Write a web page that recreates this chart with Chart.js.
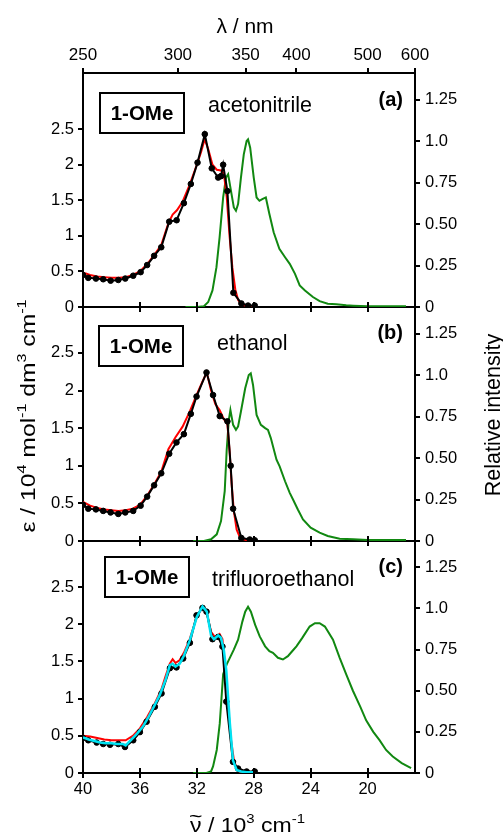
<!DOCTYPE html>
<html>
<head>
<meta charset="utf-8">
<script src="https://cdn.jsdelivr.net/npm/chart.js@4.4.1/dist/chart.umd.min.js"></script>
<style>
  html, body { margin: 0; padding: 0; background: #fff; }
  #wrap { position: relative; width: 503px; height: 834px; }
  #wrap canvas { position: absolute; left: 0; top: 0; }
</style>
</head>
<body>
<div id="wrap">
  <canvas id="panelA" width="503" height="834"></canvas>
  <canvas id="panelB" width="503" height="834"></canvas>
  <canvas id="panelC" width="503" height="834"></canvas>
</div>
<script>
// x: wavenumber / 10^3 cm^-1, absorption y: eps / 10^4, emission y: relative intensity
var aBlackX = [40, 39.63, 39.09, 38.58, 38.06, 37.52, 37.03, 36.47, 35.95, 35.49, 35.0, 34.5, 33.94, 33.42, 32.91, 32.42, 31.95, 31.44, 30.95, 30.5, 30.3, 30.15, 29.85, 29.43, 28.87, 28.4, 27.93];
var aBlackY = [0.45, 0.41, 0.40, 0.39, 0.37, 0.38, 0.40, 0.44, 0.49, 0.59, 0.72, 0.84, 1.20, 1.22, 1.46, 1.73, 2.03, 2.43, 1.95, 1.82, 1.84, 2.0, 1.63, 0.20, 0.05, 0.02, 0.02];
var aRedX = [40, 39.8, 39.5, 39, 38.5, 38, 37.5, 37, 36.5, 36, 35.5, 35, 34.5, 34, 33.7, 33.4, 33, 32.5, 32, 31.7, 31.45, 31.2, 30.9, 30.6, 30.3, 30.1, 29.9, 29.7, 29.5, 29.3, 29.1, 28.9, 28.6, 28.3, 28.0];
var aRedY = [0.48, 0.47, 0.45, 0.43, 0.42, 0.41, 0.41, 0.42, 0.45, 0.50, 0.60, 0.73, 0.87, 1.18, 1.30, 1.36, 1.48, 1.72, 2.00, 2.18, 2.36, 2.22, 2.0, 1.93, 1.92, 1.88, 1.55, 1.0, 0.55, 0.25, 0.10, 0.04, 0.02, 0.01, 0.01];
var aGreenX = [32.8, 32.0, 31.5, 31.2, 30.9, 30.62, 30.4, 30.15, 29.95, 29.8, 29.6, 29.4, 29.25, 29.1, 28.9, 28.7, 28.5, 28.4, 28.25, 28.0, 27.8, 27.6, 27.4, 27.15, 26.9, 26.6, 26.2, 25.8, 25.47, 25.1, 24.77, 24.4, 23.84, 23.37, 22.8, 22.2, 21.5, 21.0, 20.0, 19.0, 18.0, 17.3];
var aGreenY = [0, 0, 0.005, 0.03, 0.10, 0.24, 0.42, 0.66, 0.78, 0.80, 0.70, 0.60, 0.58, 0.62, 0.78, 0.92, 1.0, 1.01, 0.96, 0.78, 0.66, 0.64, 0.65, 0.66, 0.56, 0.45, 0.35, 0.30, 0.26, 0.20, 0.13, 0.10, 0.06, 0.035, 0.02, 0.016, 0.01, 0.008, 0.005, 0.005, 0.005, 0.005];

var bBlackX = [40, 39.63, 39.09, 38.58, 38.06, 37.52, 37.03, 36.47, 35.95, 35.49, 35.0, 34.5, 33.94, 33.43, 32.91, 32.42, 32.02, 31.32, 30.86, 30.39, 29.85, 29.62, 29.45, 28.87, 28.28, 27.93];
var bBlackY = [0.48, 0.43, 0.42, 0.40, 0.38, 0.36, 0.38, 0.40, 0.47, 0.59, 0.74, 0.90, 1.16, 1.31, 1.42, 1.69, 1.92, 2.24, 1.94, 1.66, 1.59, 1.0, 0.43, 0.04, 0.02, 0.01];
var bRedX = [40, 39.5, 39, 38.5, 38, 37.5, 37, 36.5, 36, 35.5, 35, 34.5, 34, 33.5, 33, 32.5, 32, 31.6, 31.3, 31.0, 30.7, 30.4, 30.1, 29.85, 29.7, 29.55, 29.4, 29.2, 29.0, 28.8, 28.5, 28.0];
var bRedY = [0.52, 0.47, 0.44, 0.42, 0.41, 0.40, 0.41, 0.43, 0.48, 0.60, 0.75, 0.92, 1.22, 1.38, 1.52, 1.72, 1.95, 2.12, 2.24, 2.0, 1.82, 1.74, 1.62, 1.55, 1.2, 0.75, 0.40, 0.15, 0.06, 0.03, 0.01, 0.01];
var bGreenX = [32.26, 31.5, 31.0, 30.6, 30.3, 30.04, 29.9, 29.75, 29.64, 29.45, 29.25, 29.1, 28.9, 28.6, 28.35, 28.21, 28.05, 27.8, 27.5, 27.2, 27.0, 26.8, 26.4, 26.18, 25.8, 25.47, 25.24, 24.9, 24.54, 24.0, 23.37, 22.8, 21.96, 21.0, 20.0, 18.2, 17.3];
var bGreenY = [0, 0, 0.01, 0.04, 0.12, 0.30, 0.55, 0.73, 0.79, 0.70, 0.67, 0.69, 0.78, 0.92, 1.0, 1.01, 0.94, 0.76, 0.70, 0.68, 0.67, 0.62, 0.49, 0.45, 0.36, 0.29, 0.25, 0.19, 0.13, 0.08, 0.05, 0.03, 0.014, 0.01, 0.006, 0.006, 0.006];

var cBlackX = [40, 39.63, 39.04, 38.58, 38.1, 37.52, 37.05, 36.47, 36.0, 35.53, 34.95, 34.48, 33.89, 33.43, 32.96, 32.49, 32.02, 31.6, 31.32, 30.9, 30.5, 30.2, 29.93, 29.46, 29.1, 28.5, 27.93];
var cBlackY = [0.47, 0.44, 0.41, 0.39, 0.38, 0.39, 0.35, 0.44, 0.55, 0.69, 0.89, 1.07, 1.41, 1.42, 1.54, 1.75, 2.12, 2.22, 2.17, 1.80, 1.83, 1.70, 0.96, 0.15, 0.06, 0.02, 0.02];
var cRedX = [40, 39.5, 39, 38.5, 38, 37.5, 37, 36.5, 36, 35.5, 35, 34.5, 34.2, 33.9, 33.7, 33.5, 33.2, 32.9, 32.5, 32, 31.6, 31.3, 31.0, 30.7, 30.4, 30.2, 30.0, 29.8, 29.6, 29.4, 29.2, 29.0, 28.7, 28.3];
var cRedY = [0.50, 0.49, 0.47, 0.45, 0.44, 0.44, 0.44, 0.50, 0.60, 0.75, 0.92, 1.12, 1.30, 1.47, 1.53, 1.48, 1.52, 1.62, 1.80, 2.10, 2.23, 2.15, 1.90, 1.82, 1.87, 1.80, 1.40, 0.90, 0.45, 0.18, 0.06, 0.02, 0.01, 0.01];
var cCyanX = [40, 39.6, 39.2, 38.8, 38.4, 38, 37.6, 37.2, 37.0, 36.6, 36.2, 35.8, 35.4, 35.0, 34.6, 34.2, 33.9, 33.7, 33.5, 33.2, 32.9, 32.5, 32.0, 31.6, 31.3, 31.0, 30.8, 30.5, 30.3, 30.1, 29.93, 29.68, 29.46, 29.2, 28.9, 28.5, 28.0];
var cCyanY = [0.48, 0.45, 0.43, 0.41, 0.40, 0.40, 0.39, 0.39, 0.37, 0.45, 0.53, 0.62, 0.75, 0.90, 1.05, 1.25, 1.45, 1.47, 1.43, 1.47, 1.58, 1.78, 2.10, 2.24, 2.17, 1.85, 1.80, 1.85, 1.82, 1.65, 1.38, 0.67, 0.17, 0.04, 0.02, 0.01, 0.01];
var cGreenX = [32.26, 31.32, 31.0, 30.86, 30.6, 30.39, 30.15, 29.9, 29.68, 29.4, 29.1, 28.8, 28.6, 28.4, 28.2, 27.9, 27.58, 27.2, 26.9, 26.65, 26.3, 25.95, 25.6, 25.3, 25.0, 24.6, 24.07, 23.7, 23.37, 23.0, 22.43, 21.96, 21.5, 21.03, 20.5, 20.1, 19.6, 19.16, 18.7, 18.23, 17.6, 16.94];
var cGreenY = [0, 0, 0.01, 0.04, 0.14, 0.30, 0.60, 0.66, 0.70, 0.75, 0.81, 0.92, 0.98, 1.01, 0.98, 0.90, 0.83, 0.77, 0.74, 0.73, 0.70, 0.69, 0.71, 0.74, 0.77, 0.82, 0.89, 0.91, 0.91, 0.89, 0.81, 0.70, 0.60, 0.50, 0.40, 0.32, 0.25, 0.20, 0.14, 0.10, 0.06, 0.03];

var lambdaTicks = [250, 300, 350, 400, 500, 600];
var waveTicks = [40, 36, 32, 28, 24, 20];
var epsTicks = [0, 0.5, 1, 1.5, 2, 2.5];
var relTicks = [0, 0.25, 0.5, 0.75, 1, 1.25];
var relLabels = ['0', '0.25', '0.50', '0.75', '1.0', '1.25'];

var H = 834;
var XMAX = 40, XMIN = 10000 / 600;
var FONT = "'Liberation Sans', Arial, sans-serif";
Chart.defaults.font.family = FONT;
Chart.defaults.color = '#000';

function xy(xs, ys) {
  return xs.map(function (x, i) { return { x: x, y: ys[i] }; });
}

function line(xs, ys, color, width, axis, marker) {
  return {
    data: xy(xs, ys),
    borderColor: color,
    backgroundColor: color,
    borderWidth: width,
    yAxisID: axis,
    pointRadius: marker ? 2.8 : 0,
    pointBorderWidth: 1,
    pointBackgroundColor: color,
    tension: 0,
    fill: false
  };
}

// text with superscripts, drawn about a baseline centre point
function richText(ctx, t) {
  var size = t.size;
  ctx.save();
  ctx.translate(t.x, t.y);
  ctx.rotate(t.rot || 0);
  var w = 0;
  t.segs.forEach(function (s) {
    ctx.font = (s[1] ? size * 0.65 : size) + 'px ' + FONT;
    w += ctx.measureText(s[0]).width;
  });
  if (t.len) ctx.scale(t.len / w, 1);
  ctx.fillStyle = '#000';
  ctx.textBaseline = 'alphabetic';
  ctx.textAlign = 'left';
  var cx = -w / 2;
  t.segs.forEach(function (s) {
    ctx.font = (s[1] ? size * 0.65 : size) + 'px ' + FONT;
    var sw = ctx.measureText(s[0]).width;
    ctx.fillText(s[0], cx, s[1] ? -size * 0.42 : 0);
    if (s[2]) {
      ctx.textAlign = 'center';
      ctx.fillText(s[2], cx + sw / 2, -size * 0.45);
      ctx.textAlign = 'left';
    }
    cx += sw;
  });
  ctx.restore();
}

var notesPlugin = {
  id: 'panelNotes',
  afterDraw: function (chart, args, o) {
    var ctx = chart.ctx, ca = chart.chartArea, xs = chart.scales.x;
    ctx.save();
    // inner half of the crossing ticks on the wavenumber axis
    ctx.strokeStyle = '#000';
    ctx.lineWidth = 2;
    waveTicks.forEach(function (v) {
      if (v === XMAX) return;
      var px = Math.round(xs.getPixelForValue(v));
      ctx.beginPath();
      ctx.moveTo(px, ca.bottom);
      ctx.lineTo(px, ca.bottom - 5);
      ctx.stroke();
    });
    // compound box
    var bx = ca.left + o.box[0], by = ca.top + o.box[1];
    ctx.strokeRect(bx, by, 84, 40);
    ctx.fillStyle = '#000';
    ctx.font = 'bold 20.5px ' + FONT;
    ctx.textAlign = 'center';
    ctx.textBaseline = 'alphabetic';
    ctx.fillText('1-OMe', bx + 42, by + 27);
    // solvent
    ctx.font = '21.5px ' + FONT;
    ctx.textAlign = 'left';
    ctx.fillText(o.solvent, ca.left + o.sol[0], ca.top + o.sol[1]);
    // panel tag
    ctx.font = 'bold 20px ' + FONT;
    ctx.textAlign = 'right';
    ctx.textBaseline = 'middle';
    ctx.fillText(o.tag, ca.right - 12, ca.top + o.tagY);
    ctx.restore();
    (o.titles || []).forEach(function (t) { richText(ctx, t); });
  }
};

function makePanel(id, p) {
  var scales = {
    x: {
      type: 'linear', position: 'bottom', min: XMIN, max: XMAX, reverse: true,
      border: { color: '#000', width: 2 },
      grid: { drawOnChartArea: false, tickLength: 5, color: '#000', lineWidth: 2 },
      ticks: {
        display: p.xLabels, font: { size: 16.5 }, padding: 2, maxRotation: 0, autoSkip: false,
        callback: function (v) { return String(v); }
      },
      afterBuildTicks: function (s) { s.ticks = waveTicks.map(function (v) { return { value: v }; }); },
      afterFit: function (s) { s.height = H - p.bottom; }
    },
    y: {
      type: 'linear', position: 'left', min: 0, max: p.epsMax,
      border: { color: '#000', width: 2 },
      grid: { drawOnChartArea: false, tickLength: 5, color: '#000', lineWidth: 2 },
      ticks: { font: { size: 16.5 }, padding: 4, callback: function (v) { return String(v); } },
      afterBuildTicks: function (s) { s.ticks = epsTicks.map(function (v) { return { value: v }; }); },
      afterFit: function (s) { s.width = 83; }
    },
    y2: {
      type: 'linear', position: 'right', min: 0, max: 1.41,
      border: { color: '#000', width: 2 },
      grid: { drawOnChartArea: false, tickLength: 5, color: '#000', lineWidth: 2 },
      ticks: { font: { size: 16.5 }, padding: 5, callback: function (v) { return relLabels[relTicks.indexOf(v)]; } },
      afterBuildTicks: function (s) { s.ticks = relTicks.map(function (v) { return { value: v }; }); },
      afterFit: function (s) { s.width = 88; }
    }
  };
  if (p.lambdaAxis) {
    scales.xt = {
      type: 'linear', position: 'top', min: XMIN, max: XMAX, reverse: true,
      border: { color: '#000', width: 2 },
      grid: { drawOnChartArea: false, tickLength: 5, color: '#000', lineWidth: 2 },
      ticks: {
        font: { size: 17 }, padding: 2, maxRotation: 0, autoSkip: false,
        callback: function (v) { return String(Math.round(10000 / v)); }
      },
      afterBuildTicks: function (s) { s.ticks = lambdaTicks.map(function (l) { return { value: 10000 / l }; }); },
      afterFit: function (s) { s.height = p.top; }
    };
  }
  return new Chart(document.getElementById(id), {
    type: 'line',
    data: { datasets: p.sets },
    options: {
      responsive: false,
      animation: false,
      events: [],
      layout: { padding: { top: p.lambdaAxis ? 0 : p.top, left: 0, right: 0, bottom: 0 } },
      plugins: { legend: { display: false }, tooltip: { enabled: false }, panelNotes: p.notes },
      scales: scales
    },
    plugins: [notesPlugin]
  });
}

var RED = '#ff0000', BLACK = '#000000', GREEN = '#118811', CYAN = '#00e2f2';

makePanel('panelA', {
  top: 73, bottom: 307, epsMax: 3.29, lambdaAxis: true, xLabels: false,
  sets: [
    line(aBlackX, aBlackY, BLACK, 2, 'y', true),
    line(aRedX, aRedY, RED, 2, 'y', false),
    line(aGreenX, aGreenY, GREEN, 2, 'y2', false)
  ],
  notes: {
    box: [17, 20], solvent: 'acetonitrile', sol: [125, 39], tag: '(a)', tagY: 27,
    titles: [{ segs: [['λ / nm']], size: 21, x: 245, y: 33 }]
  }
});

makePanel('panelB', {
  top: 307, bottom: 541, epsMax: 3.11, lambdaAxis: false, xLabels: false,
  sets: [
    line(bBlackX, bBlackY, BLACK, 2, 'y', true),
    line(bRedX, bRedY, RED, 2, 'y', false),
    line(bGreenX, bGreenY, GREEN, 2, 'y2', false)
  ],
  notes: {
    box: [16, 19], solvent: 'ethanol', sol: [134, 43], tag: '(b)', tagY: 26,
    titles: [
      { segs: [['ε / 10'], ['4', 1], [' mol'], ['-1', 1], [' dm'], ['3', 1], [' cm'], ['-1', 1]],
        size: 21, x: 35, y: 416, rot: -Math.PI / 2, len: 233 },
      { segs: [['Relative intensity']], size: 21.5, x: 500, y: 415, rot: -Math.PI / 2 }
    ]
  }
});

makePanel('panelC', {
  top: 541, bottom: 773, epsMax: 3.12, lambdaAxis: false, xLabels: true,
  sets: [
    line(cCyanX, cCyanY, CYAN, 2.5, 'y', false),
    line(cBlackX, cBlackY, BLACK, 2, 'y', true),
    line(cRedX, cRedY, RED, 2, 'y', false),
    line(cGreenX, cGreenY, GREEN, 2, 'y2', false)
  ],
  notes: {
    box: [22, 16], solvent: 'trifluoroethanol', sol: [129, 45], tag: '(c)', tagY: 26,
    titles: [
      { segs: [['ν', 0, '~'], [' / 10'], ['3', 1], [' cm'], ['-1', 1]], size: 21, x: 247.5, y: 832, len: 115 }
    ]
  }
});
</script>
</body>
</html>
